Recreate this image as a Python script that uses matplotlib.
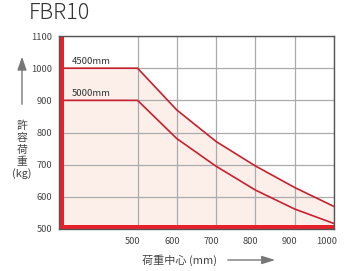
import matplotlib
matplotlib.use("Agg")
import matplotlib.pyplot as plt
import matplotlib.transforms as mtransforms
from matplotlib.patches import FancyArrowPatch

plt.rcParams["font.family"] = ["Noto Sans CJK JP", "DejaVu Sans"]

# data
load_center_mm = [300, 500, 600, 700, 800, 900, 1000]
capacity_4500_kg = [1000, 1000, 870, 772, 696, 629, 570]
capacity_5000_kg = [900, 900, 781, 695, 621, 562, 517]
series_labels = ["4500mm", "5000mm"]
x_ticks = [500, 600, 700, 800, 900, 1000]
y_ticks = [500, 600, 700, 800, 900, 1000, 1100]
y_title_chars = ["許", "容", "荷", "重", "(kg)"]

LINE_RED = "#c8202f"
BAR_RED = "#e8202a"
FILL_PINK = "#fcefea"
GRID_GRAY = "#ababab"
SPINE_GRAY = "#555555"
TEXT_GRAY = "#444444"

fig = plt.figure(figsize=(3.49, 2.71), dpi=100)
ax = fig.add_axes([0.169, 0.155, 0.788, 0.712])

ax.set_xlim(300, 1000)
ax.set_ylim(500, 1100)

ax.fill_between(load_center_mm, capacity_4500_kg, 500, color=FILL_PINK, lw=0, zorder=1)
ax.set_xticks(x_ticks)
ax.set_yticks(y_ticks)
ax.grid(True, color=GRID_GRAY, lw=0.9, zorder=2)
ax.set_axisbelow(False)

ax.plot(load_center_mm, capacity_4500_kg, color=LINE_RED, lw=1.2, zorder=3)
ax.plot(load_center_mm, capacity_5000_kg, color=LINE_RED, lw=1.2, zorder=3)

# thick red bars along left and bottom edges
ax.axvspan(300, 313, color=BAR_RED, lw=0, zorder=4)
ax.axhspan(500, 513, color=BAR_RED, lw=0, zorder=4)

for label, value in zip(series_labels, [capacity_4500_kg[0], capacity_5000_kg[0]]):
    ax.text(333, value + 6, label, fontsize=6.8, color="#333333",
            va="bottom", zorder=5)

for side in ["left", "bottom", "top", "right"]:
    ax.spines[side].set_color(SPINE_GRAY)
    ax.spines[side].set_linewidth(1.0)
    ax.spines[side].set_zorder(6)

ax.tick_params(length=0, labelsize=6.7, labelcolor=TEXT_GRAY, pad=5)
ax.tick_params(axis="x", pad=6)
offset = mtransforms.ScaledTranslation(3 / 100, 0, fig.dpi_scale_trans)
for label in ax.get_xticklabels():
    label.set_horizontalalignment("right")
    label.set_transform(label.get_transform() + offset)

fig.text(29 / 349, 1 - 13 / 271, "FBR10", fontsize=15.5, color="#333333",
         va="center", ha="left", fontweight="light")

# y axis title, stacked vertically, with arrow
for char, y_px in zip(y_title_chars, [126, 138, 150, 162, 174]):
    fig.text(22 / 349, 1 - y_px / 271, char, fontsize=7.8, color=TEXT_GRAY,
             ha="center", va="center")
fig.add_artist(FancyArrowPatch(
    (22 / 349, 1 - 107 / 271), (22 / 349, 1 - 54 / 271),
    transform=fig.transFigure, arrowstyle="-|>,head_length=8,head_width=2.8",
    color="#777777", lw=1.0, mutation_scale=1))

# x axis title with arrow
fig.text(179 / 349, 1 - 260 / 271, "荷重中心 (mm)", fontsize=8,
         color=TEXT_GRAY, ha="center", va="center")
fig.add_artist(FancyArrowPatch(
    (225 / 349, 1 - 260 / 271), (278 / 349, 1 - 260 / 271),
    transform=fig.transFigure, arrowstyle="-|>,head_length=8,head_width=2.5",
    color="#777777", lw=1.0, mutation_scale=1))

fig.savefig("out.png", dpi=100)
